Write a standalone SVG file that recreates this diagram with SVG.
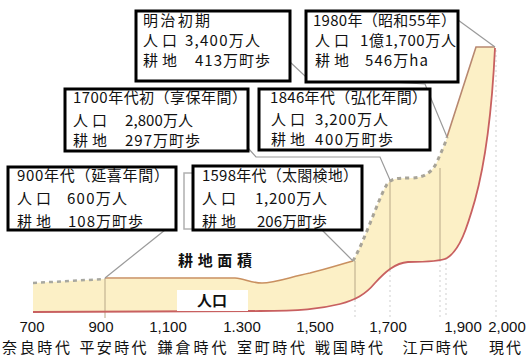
<svg xmlns="http://www.w3.org/2000/svg" width="526" height="356" viewBox="0 0 526 356">
<style>
.b{fill:#fff;stroke:#000;stroke-width:3}
.t{font-family:"Noto Sans CJK JP","Noto Sans CJK SC",sans-serif;font-size:15px;fill:#111}
.num{font-family:"Liberation Sans",Arial,sans-serif;font-size:15px;fill:#111;text-anchor:middle}
.ax{font-family:"Noto Sans CJK JP","Noto Sans CJK SC",sans-serif;font-size:15px;fill:#111;text-anchor:middle}
.lbl{font-family:"Noto Sans CJK JP","Noto Sans CJK SC",sans-serif;font-size:15px;font-weight:bold;fill:#111;text-anchor:middle}
.con{fill:none;stroke:#9a9a9a;stroke-width:1.2}
.grid{stroke:#b8a888;stroke-width:1;fill:none}
.dot{stroke:#cfcfcf;stroke-width:1;stroke-dasharray:2,3;fill:none}
</style>
<rect width="526" height="356" fill="#fff"/>

<g id="chart">
  <path d="M33,283 L105,279 L235,278 C245,279 252,283 262,283 C275,283 290,277 310,273 C330,268 345,263 353,261 C365,240 378,200 386,186 C390,178 398,178 410,178 C425,178 432,172 437,162 C441,152 445,145 447,137 L476,47 L495,47 C492,110 486,160 475,200 C467,228 460,250 447,258 C440,262 420,262 408,262 C395,263 385,272 375,283 C365,295 355,300 340,304 C320,309 300,311 260,311 L33,312 Z" fill="#fcf0c6"/>
  <line class="grid" x1="105" y1="278" x2="105" y2="318"/>
  <line class="grid" x1="355" y1="261" x2="355" y2="300"/>
  <line class="dot" x1="355" y1="300" x2="355" y2="318"/>
  <line class="grid" x1="390" y1="180" x2="390" y2="270"/>
  <line class="dot" x1="390" y1="270" x2="390" y2="318"/>
  <line class="grid" x1="440" y1="168" x2="440" y2="260"/>
  <line class="dot" x1="440" y1="260" x2="440" y2="318"/>
  <line class="dot" x1="446" y1="258" x2="446" y2="318"/>
  <line class="dot" x1="496" y1="50" x2="496" y2="318"/>
  <path d="M33,283 L105,279" fill="none" stroke="#a8a8a0" stroke-width="2.5" stroke-dasharray="4,4"/>
  <path d="M105,278 L235,278 C245,279 252,283 262,283 C275,283 290,277 310,273 C330,268 345,263 353,261" fill="none" stroke="#c99060" stroke-width="1.6"/>
  <path d="M353,261 C365,240 378,200 386,186 C390,178 398,178 410,178 C425,178 432,172 437,162 C441,152 445,145 447,137" fill="none" stroke="#a8a498" stroke-width="3" stroke-dasharray="4,4"/>
  <path d="M447,137 L476,47 L495,47" fill="none" stroke="#b88870" stroke-width="1.6"/>
  <path d="M495,48 C492,110 486,160 475,200 C467,228 460,250 447,258 C440,262 420,262 408,262 C395,263 385,272 375,283 C365,295 355,300 340,304 C320,309 300,311 260,311 L33,312" fill="none" stroke="#c86060" stroke-width="1.8"/>
</g>

<g id="connectors">
  <line class="con" x1="165" y1="230" x2="105" y2="278"/>
  <line class="con" x1="322" y1="230" x2="353" y2="261"/>
  <polyline class="con" points="248,148 256,157 380,157 390,180"/>
  <polyline class="con" points="290,62 306,77 425,84 447,137"/>
  <line class="con" x1="458" y1="20" x2="495" y2="47"/>
  <rect x="184" y="173" width="20" height="56" fill="none" stroke="#b0b0b0" stroke-width="1.5"/>
</g>

<g id="label-kouchi">
  <text class="lbl" x="215" y="266" textLength="74" lengthAdjust="spacing">耕 地 面 積</text>
</g>
<g id="label-jinko">
  <rect x="177" y="290" width="71" height="21" fill="#fff"/>
  <text class="lbl" x="212" y="306">人口</text>
</g>

<g id="box-meiji">
  <rect class="b" x="136" y="11" width="154" height="70"/>
  <text class="t" x="143" y="26" textLength="67" lengthAdjust="spacing">明治初期</text>
  <text class="t" x="143" y="46" textLength="34" lengthAdjust="spacing">人口</text>
  <text class="t" x="185" y="46" textLength="75" lengthAdjust="spacing">3,400万人</text>
  <text class="t" x="143" y="66" textLength="34" lengthAdjust="spacing">耕地</text>
  <text class="t" x="195" y="66" textLength="75" lengthAdjust="spacing">413万町歩</text>
</g>

<g id="box-1980">
  <rect class="b" x="306" y="11" width="152" height="71"/>
  <text class="t" x="313" y="26" textLength="143" lengthAdjust="spacing">1980年（昭和55年）</text>
  <text class="t" x="315" y="46" textLength="34" lengthAdjust="spacing">人口</text>
  <text class="t" x="360" y="46" textLength="96" lengthAdjust="spacing">1億1,700万人</text>
  <text class="t" x="315" y="66" textLength="34" lengthAdjust="spacing">耕地</text>
  <text class="t" x="365" y="66" textLength="63" lengthAdjust="spacing">546万ha</text>
</g>

<g id="box-1700">
  <rect class="b" x="65" y="89" width="183" height="62"/>
  <text class="t" x="73" y="103" textLength="174" lengthAdjust="spacing">1700年代初（享保年間）</text>
  <text class="t" x="73" y="126" textLength="34" lengthAdjust="spacing">人口</text>
  <text class="t" x="125" y="126" textLength="68" lengthAdjust="spacing">2,800万人</text>
  <text class="t" x="73" y="146" textLength="34" lengthAdjust="spacing">耕地</text>
  <text class="t" x="125" y="146" textLength="75" lengthAdjust="spacing">297万町歩</text>
</g>

<g id="box-1846">
  <rect class="b" x="259" y="89" width="171" height="61"/>
  <text class="t" x="270" y="103" textLength="157" lengthAdjust="spacing">1846年代（弘化年間）</text>
  <text class="t" x="271" y="125" textLength="34" lengthAdjust="spacing">人口</text>
  <text class="t" x="315" y="125" textLength="73" lengthAdjust="spacing">3,200万人</text>
  <text class="t" x="271" y="145" textLength="34" lengthAdjust="spacing">耕地</text>
  <text class="t" x="315" y="145" textLength="78" lengthAdjust="spacing">400万町歩</text>
</g>

<g id="box-900">
  <rect class="b" x="8" y="167" width="168" height="63"/>
  <text class="t" x="17" y="181" textLength="152" lengthAdjust="spacing">900年代（延喜年間）</text>
  <text class="t" x="17" y="204" textLength="34" lengthAdjust="spacing">人口</text>
  <text class="t" x="67" y="204" textLength="60" lengthAdjust="spacing">600万人</text>
  <text class="t" x="17" y="227" textLength="34" lengthAdjust="spacing">耕地</text>
  <text class="t" x="68" y="227" textLength="75" lengthAdjust="spacing">108万町歩</text>
</g>

<g id="box-1598">
  <rect class="b" x="193" y="166" width="169" height="64"/>
  <text class="t" x="202" y="181" textLength="156" lengthAdjust="spacing">1598年代（太閤検地）</text>
  <text class="t" x="202" y="204" textLength="34" lengthAdjust="spacing">人口</text>
  <text class="t" x="255" y="204" textLength="72" lengthAdjust="spacing">1,200万人</text>
  <text class="t" x="202" y="227" textLength="34" lengthAdjust="spacing">耕地</text>
  <text class="t" x="257" y="227" textLength="70" lengthAdjust="spacing">206万町歩</text>
</g>

<g id="axis">
  <text class="num" x="32" y="332">700</text>
  <text class="num" x="101" y="332">900</text>
  <text class="num" x="168" y="332">1,100</text>
  <text class="num" x="242" y="332">1.300</text>
  <text class="num" x="315" y="332">1,500</text>
  <text class="num" x="388" y="332">1,700</text>
  <text class="num" x="463" y="332">1,900</text>
  <text class="num" x="507" y="332">2,000</text>
  <text class="ax" x="36" y="353" textLength="68" lengthAdjust="spacing">奈良時代</text>
  <text class="ax" x="113" y="353" textLength="67" lengthAdjust="spacing">平安時代</text>
  <text class="ax" x="192" y="353" textLength="69" lengthAdjust="spacing">鎌倉時代</text>
  <text class="ax" x="271" y="353" textLength="68" lengthAdjust="spacing">室町時代</text>
  <text class="ax" x="349" y="353" textLength="68" lengthAdjust="spacing">戦国時代</text>
  <text class="ax" x="435" y="353" textLength="65" lengthAdjust="spacing">江戸時代</text>
  <text class="ax" x="505" y="353" textLength="32" lengthAdjust="spacing">現代</text>
</g>
</svg>
